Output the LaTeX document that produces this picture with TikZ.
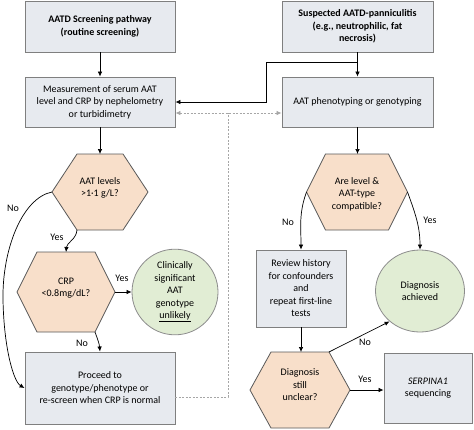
\documentclass[tikz,border=0pt]{standalone}
\usepackage{fontspec}
\setmainfont{Carlito}
\usetikzlibrary{arrows.meta,calc,shapes.geometric}
\definecolor{boxfill}{HTML}{E7EAEF}
\definecolor{boxdraw}{HTML}{7F7F7F}
\definecolor{hexfill}{HTML}{F8DFCA}
\definecolor{hexdraw}{HTML}{595959}
\definecolor{circfill}{HTML}{E1EDD4}
\definecolor{circdraw}{HTML}{8C8C8C}
\definecolor{dashgray}{HTML}{A6A6A6}
\newcommand{\mkhex}[6]{%
 \coordinate (#1w) at ({#2-#4},#3);
 \coordinate (#1e) at ({#2+#4},#3);
 \coordinate (#1tl) at ({#2-#5},{#3-#6});
 \coordinate (#1tr) at ({#2+#5},{#3-#6});
 \coordinate (#1bl) at ({#2-#5},{#3+#6});
 \coordinate (#1br) at ({#2+#5},{#3+#6});
 \coordinate (#1t) at (#2,{#3-#6});
 \coordinate (#1b) at (#2,{#3+#6});
 \draw[hexshape] (#1w) -- (#1tl) -- (#1tr) -- (#1e) -- (#1br) -- (#1bl) -- cycle;
}
\begin{document}
\begin{tikzpicture}[x=1pt,y=-1pt,
  every node/.style={font=\fontsize{10}{12.5}\selectfont, align=center, inner sep=0pt},
  box/.style={draw=boxdraw, fill=boxfill, line width=0.9pt},
  hexshape/.style={draw=hexdraw, fill=hexfill, line width=0.8pt},
  circ/.style={ellipse, draw=circdraw, fill=circfill, line width=0.8pt},
  arr/.style={-{Latex[length=5pt,width=4.5pt]}, line width=0.7pt, black},
  darr/.style={{Latex[length=5pt,width=4.5pt]}-{Latex[length=5pt,width=4.5pt]}, dashgray, line width=0.8pt, dash pattern=on 2pt off 1.5pt},
  dline/.style={dashgray, line width=0.8pt, dash pattern=on 2pt off 1.5pt},
  lbl/.style={font=\fontsize{10}{12}\selectfont}
]
\useasboundingbox[fill=white] (0,0) rectangle (474,429);

% boxes
\node[box, minimum width=150pt, minimum height=51pt] (b1) at (100,26.5) {\textbf{AATD Screening pathway}\\\textbf{(routine screening)}};
\node[box, minimum width=150pt, minimum height=50pt] (m) at (100,102) {Measurement of serum AAT\\level and CRP by nephelometry\\or turbidimetry};
\node[box, minimum width=151pt, minimum height=51pt] (b3) at (357.5,26.5) {\textbf{Suspected AATD-panniculitis}\\\textbf{(e.g., neutrophilic, fat}\\\textbf{necrosis)}};
\node[box, minimum width=151pt, minimum height=50pt] (p) at (357.5,102) {AAT phenotyping or genotyping};
\node[box, minimum width=150pt, minimum height=72pt] (pr) at (100,388) {Proceed to\\genotype/phenotype or\\re-screen when CRP is normal};
\node[box, minimum width=90pt, minimum height=77pt] (rv) at (301,288.5) {Review history\\for confounders\\and\\repeat first-line\\tests};
\node[box, minimum width=88pt, minimum height=70pt] (sp) at (428,388) {\textit{SERPINA1}\\sequencing};

% hexagons
\mkhex{h1}{100}{192}{48}{23}{38}
\node (h1x) at (100,188) {AAT levels\\>1·1 g/L?};
\mkhex{h2}{66}{292}{49}{29}{40}
\node (h2x) at (66,288) {CRP\\<0.8mg/dL?};
\mkhex{h3}{357}{192}{50.5}{31.5}{38}
\node (h3x) at (357,194) {Are level \&\\AAT-type\\compatible?};
\mkhex{h4}{300}{390}{50}{29}{38}
\node (h4x) at (300,385) {Diagnosis\\still\\unclear?};

% ellipses
\node[circ, minimum width=86pt, minimum height=84pt] (c1) at (175,292) {Clinically\\significant\\AAT\\genotype\\\underline{unlikely}};
\node[circ, minimum width=89pt, minimum height=82pt] (c2) at (420,291) {Diagnosis\\achieved};

% connectors
\draw[arr] (b1.south) -- (m.north);
\draw[arr] (b3.south) -- (p.north);
\coordinate (j) at (357.5,62);
\coordinate (k) at (266,102);
\draw[arr] (j) -| (k) -- (k -| m.east);
\coordinate (d) at (228,113);
\draw[darr] (d -| m.east) -- (d -| p.west);
\coordinate (e) at ($(pr.east)+(0,9)$);
\draw[dline] (e) -| (d);

\draw[arr] (m.south) -- (h1t);
\draw[arr] (h1bl) to[out=-95,in=85] (h2t);
\draw[arr] (h2e) -- (c1.west);
\draw[arr] (h2br) to[out=-70,in=95] (pr.north);
\draw[arr] (h1w) .. controls (22,198) and (2,250) .. (3,300) .. controls (4,350) and (14,382) .. (pr.west);

\draw[arr] (p.south) -- (p.south |- h3t);
\draw[arr] (h3w) to[out=-110,in=90] (rv.north);
\draw[arr] (h3e) to[out=-70,in=90] (c2.north);
\draw[arr] (rv.south) -- (rv.south |- h4t);
\draw[arr] (h4tr) -- (c2.225);
\draw[arr] (h4e) -- (h4e -| sp.west);

% labels
\node[lbl] (l1) at (13,208) {No};
\node[lbl] (l2) at (57,237) {Yes};
\node[lbl] (l3) at (122,278) {Yes};
\node[lbl] (l4) at (82,343) {No};
\node[lbl] (l5) at (288,222) {No};
\node[lbl] (l6) at (430,220) {Yes};
\node[lbl] (l7) at (365,342) {No};
\node[lbl] (l8) at (365,379) {Yes};
\end{tikzpicture}
\end{document}
